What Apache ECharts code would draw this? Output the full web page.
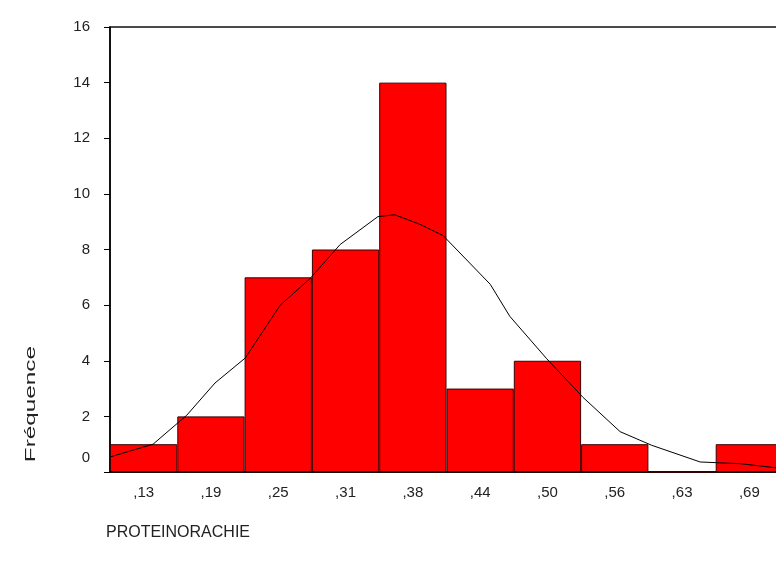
<!DOCTYPE html>
<html>
<head>
<meta charset="utf-8">
<script src="https://cdn.jsdelivr.net/npm/echarts@6/dist/echarts.min.js"></script>
<style>
html,body{margin:0;padding:0;background:#fff;}
#chart{width:776px;height:567px;}
</style>
</head>
<body>
<div id="chart"></div>
<script>
// Bin labels (centres) and frequencies
const categories = [',13', ',19', ',25', ',31', ',38', ',44', ',50', ',56', ',63', ',69'];
const frequencies = [1, 2, 7, 8, 14, 3, 4, 1, 0, 1];
// Normal curve: position in bin units (0 = left edge of first bin), frequency
const curveX = [0, 0.64, 1.14, 1.56, 2.01, 2.53, 2.97, 3.42, 3.98, 4.23, 4.61, 4.95, 5.65, 5.94, 6.49, 7.03, 7.58, 8.05, 8.77, 9.36, 9.90];
const curveY = [0.54, 1.0, 2.04, 3.2, 4.1, 6.0, 6.95, 8.18, 9.18, 9.25, 8.9, 8.5, 6.75, 5.6, 4.07, 2.68, 1.45, 0.96, 0.36, 0.3, 0.15];
const yTicks = {min: 0, max: 16, interval: 2};

const FONT = 'Liberation Sans, Arial, sans-serif';
const chart = echarts.init(document.getElementById('chart'), null, {renderer: 'canvas'});
const curveData = curveX.map((x, i) => [x, curveY[i]]);

chart.setOption({
  animation: false,
  backgroundColor: '#ffffff',
  grid: {left: 110, top: 27, width: 673, height: 445, outerBoundsMode: 'none', containLabel: false,
         show: true, borderColor: '#111', borderWidth: 1.5, backgroundColor: 'transparent'},
  xAxis: [
    {
      type: 'category',
      data: categories,
      boundaryGap: true,
      axisLine: {lineStyle: {color: '#000', width: 1.5}},
      axisTick: {alignWithLabel: true, length: 4, lineStyle: {color: '#000'}},
      axisLabel: {color: '#222', fontFamily: FONT, fontSize: 15, margin: 13}
    },
    {
      type: 'value', min: 0, max: 10, show: false
    }
  ],
  yAxis: {
    type: 'value',
    min: yTicks.min, max: yTicks.max, interval: yTicks.interval,
    splitLine: {show: false},
    axisLine: {show: true, lineStyle: {color: '#000', width: 1.5}},
    axisTick: {show: true, length: 6, lineStyle: {color: '#000'}},
    axisLabel: {
      color: '#222', fontFamily: FONT, fontSize: 15, margin: 20,
      formatter: v => v === 0 ? '{z|0}' : String(v),
      rich: {z: {color: '#222', fontFamily: FONT, fontSize: 15, padding: [0, 0, 28, 0]}}
    }
  },
  graphic: [
    {type: 'text', left: 23, top: 346, rotation: Math.PI / 2, scaleX: 1.62,
     style: {text: 'Fréquence', font: '15px ' + FONT, fill: '#222'}},
    {type: 'text', left: 106, top: 525,
     style: {text: 'PROTEINORACHIE', font: '16px ' + FONT, fill: '#222'}}
  ],
  series: [
    {
      type: 'bar',
      data: frequencies,
      barWidth: '100%',
      itemStyle: {color: '#ff0000', borderColor: '#3a0000', borderWidth: 1},
      z: 2
    },
    {
      type: 'line',
      xAxisIndex: 1,
      data: curveData,
      showSymbol: false,
      smooth: false,
      lineStyle: {color: '#000', width: 1},
      z: 3
    }
  ]
});
</script>
</body>
</html>
